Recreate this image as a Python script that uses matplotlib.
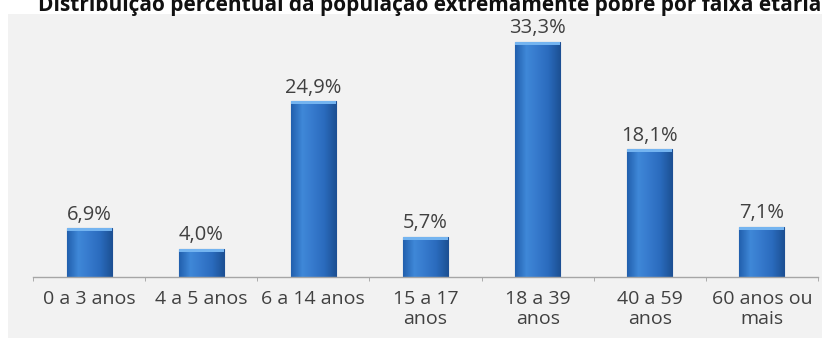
import numpy as np
import matplotlib.pyplot as plt
from matplotlib.patches import Rectangle
from matplotlib.colors import LinearSegmentedColormap

# dados
faixas = ["0 a 3 anos", "4 a 5 anos", "6 a 14 anos", "15 a 17\nanos",
          "18 a 39\nanos", "40 a 59\nanos", "60 anos ou\nmais"]
valores = [6.9, 4.0, 24.9, 5.7, 33.3, 18.1, 7.1]
rotulos = ["6,9%", "4,0%", "24,9%", "5,7%", "33,3%", "18,1%", "7,1%"]
titulo = "Distribuição percentual da população extremamente pobre por faixa etária"

plt.rcParams["font.family"] = ["Open Sans", "DejaVu Sans"]

W, H = 832, 338
fig = plt.figure(figsize=(W / 100, H / 100), dpi=100)
fig.patch.set_facecolor("white")

# painel cinza de fundo
fig.patches.append(Rectangle((8 / W, 0), (822 - 8) / W, (H - 14) / H,
                             transform=fig.transFigure, facecolor="#f2f2f2",
                             edgecolor="none", zorder=-5))

ax = fig.add_axes([33 / W, (H - 277) / H, (818 - 33) / W, (277 - 20) / H])
ax.set_facecolor("none")

x = np.arange(len(faixas))
bars = ax.bar(x, valores, width=0.4, color="#2f6fc2", edgecolor="#1d4f94",
              linewidth=0.8, zorder=2)

# gradiente horizontal nas barras
cmap = LinearSegmentedColormap.from_list("azul", ["#2260ae", "#3f88d8", "#3679cc", "#2a6bbd", "#1d5296"])
grad = np.linspace(0, 1, 64).reshape(1, -1)
for b in bars:
    x0, w, h = b.get_x(), b.get_width(), b.get_height()
    im = ax.imshow(grad, cmap=cmap, extent=(x0, x0 + w, 0, h), aspect="auto", zorder=2.5)
    im.set_clip_path(b)
    # borda superior clara
    ax.add_patch(Rectangle((x0, h - 0.45), w, 0.45, facecolor="#74b4f0",
                           edgecolor="none", zorder=3))

for xi, v, r in zip(x, valores, rotulos):
    ax.annotate(r, (xi, v), xytext=(0, 2.5), textcoords="offset points",
                ha="center", va="bottom", fontsize=14.5, color="#404040")

ax.set_xlim(-0.5, len(faixas) - 0.5)
ax.set_ylim(0, 36.4)
ax.set_xticks(x)
ax.set_xticklabels(faixas, fontsize=14, color="#404040", linespacing=1.2)
ax.tick_params(axis="x", which="major", length=0, pad=9)
ax.set_xticks(np.arange(-0.5, len(faixas)), minor=True)
ax.tick_params(axis="x", which="minor", length=3, color="#a0a0a0", direction="out")
ax.set_yticks([])
for s in ["top", "right", "left"]:
    ax.spines[s].set_visible(False)
ax.spines["bottom"].set_color("#a6a6a6")
ax.spines["bottom"].set_linewidth(1.0)

fig.text(0.517, 1 - 6 / H, titulo, ha="center", va="center", fontsize=15,
         fontweight="bold", color="#111111")

fig.savefig("out.png", dpi=100)
